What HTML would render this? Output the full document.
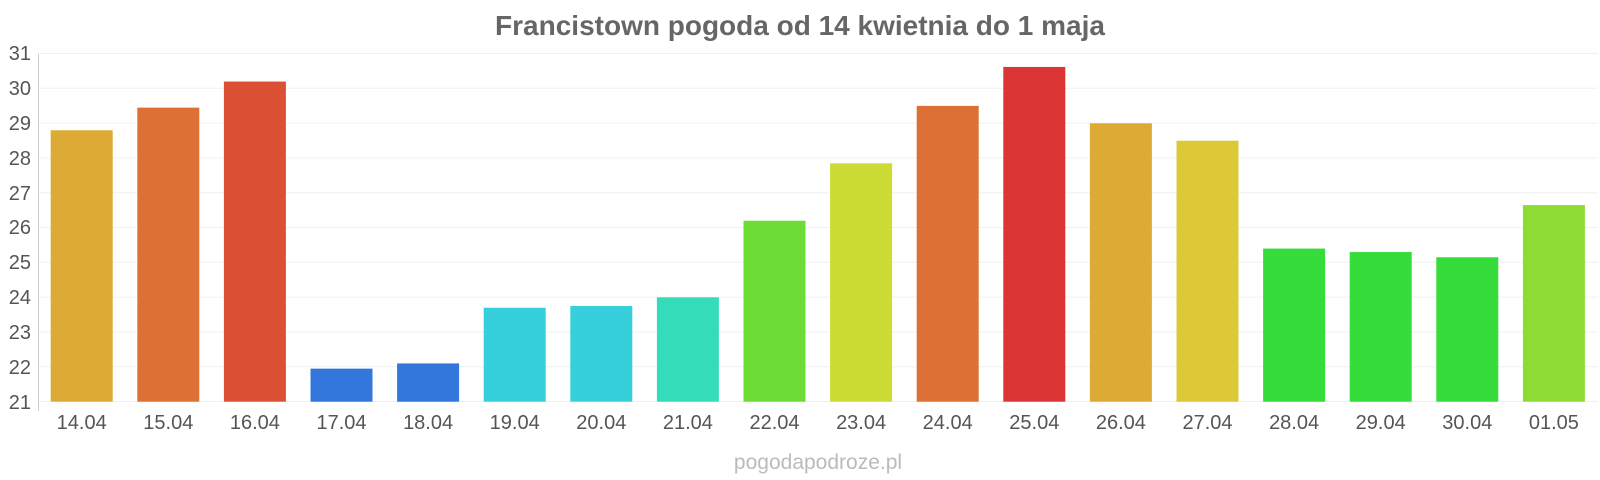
<!DOCTYPE html>
<html><head><meta charset="utf-8"><style>
html,body{margin:0;padding:0;background:#fff;width:1600px;height:480px;overflow:hidden}
text{font-family:"Liberation Sans",Arial,sans-serif}
</style></head><body>
<svg width="1600" height="480" viewBox="0 0 1600 480" xmlns="http://www.w3.org/2000/svg">
<text x="800" y="35" text-anchor="middle" font-size="28" font-weight="bold" fill="#666">Francistown pogoda od 14 kwietnia do 1 maja</text>
<g stroke="#f0f0f0" stroke-width="1">
<line x1="39" x2="1598" y1="53.5" y2="53.5"/><line x1="39" x2="1598" y1="88.3" y2="88.3"/><line x1="39" x2="1598" y1="123.1" y2="123.1"/><line x1="39" x2="1598" y1="157.9" y2="157.9"/><line x1="39" x2="1598" y1="192.7" y2="192.7"/><line x1="39" x2="1598" y1="227.5" y2="227.5"/><line x1="39" x2="1598" y1="262.3" y2="262.3"/><line x1="39" x2="1598" y1="297.1" y2="297.1"/><line x1="39" x2="1598" y1="331.9" y2="331.9"/><line x1="39" x2="1598" y1="366.7" y2="366.7"/><line x1="39" x2="1598" y1="401.5" y2="401.5"/>
</g>
<line x1="38.5" x2="38.5" y1="54" y2="411" stroke="#ccc"/>
<g font-size="20" fill="#555" text-anchor="end">
<text x="31" y="60">31</text><text x="31" y="95">30</text><text x="31" y="130">29</text><text x="31" y="165">28</text><text x="31" y="200">27</text><text x="31" y="234">26</text><text x="31" y="269">25</text><text x="31" y="304">24</text><text x="31" y="339">23</text><text x="31" y="374">22</text><text x="31" y="409">21</text>
</g>
<g id="bars"></g>
<g id="labels" font-size="20" fill="#555" text-anchor="middle"></g>
<text x="818" y="469" text-anchor="middle" font-size="21" fill="#bbb">pogodapodroze.pl</text>
</svg>
<script>
var v=[28.8,29.45,30.2,21.95,22.1,23.7,23.75,24.0,26.2,27.85,29.5,30.62,29.0,28.5,25.4,25.3,25.15,26.65];
var c=["#dcaa35","#dc7035","#dc5035","#3477dc","#3477dc","#35d0dc","#35d0dc","#35dcba","#6ddc35","#cddc35","#dc7035","#dc3535","#dcaa35","#dcc935","#35dc3a","#35dc3a","#35dc3a","#8ddc35"];
var l=["14.04","15.04","16.04","17.04","18.04","19.04","20.04","21.04","22.04","23.04","24.04","25.04","26.04","27.04","28.04","29.04","30.04","01.05"];
var ns="http://www.w3.org/2000/svg",b=document.getElementById("bars"),t=document.getElementById("labels");
for(var i=0;i<18;i++){var x=50.7+i*86.6,y=401.7-(v[i]-21)*34.8;
var r=document.createElementNS(ns,"rect");r.setAttribute("x",x);r.setAttribute("y",y);r.setAttribute("width",62);r.setAttribute("height",401.7-y);r.setAttribute("fill",c[i]);b.appendChild(r);
var s=document.createElementNS(ns,"text");s.setAttribute("x",x+31);s.setAttribute("y",429);s.textContent=l[i];t.appendChild(s);}
</script>
</body></html>
